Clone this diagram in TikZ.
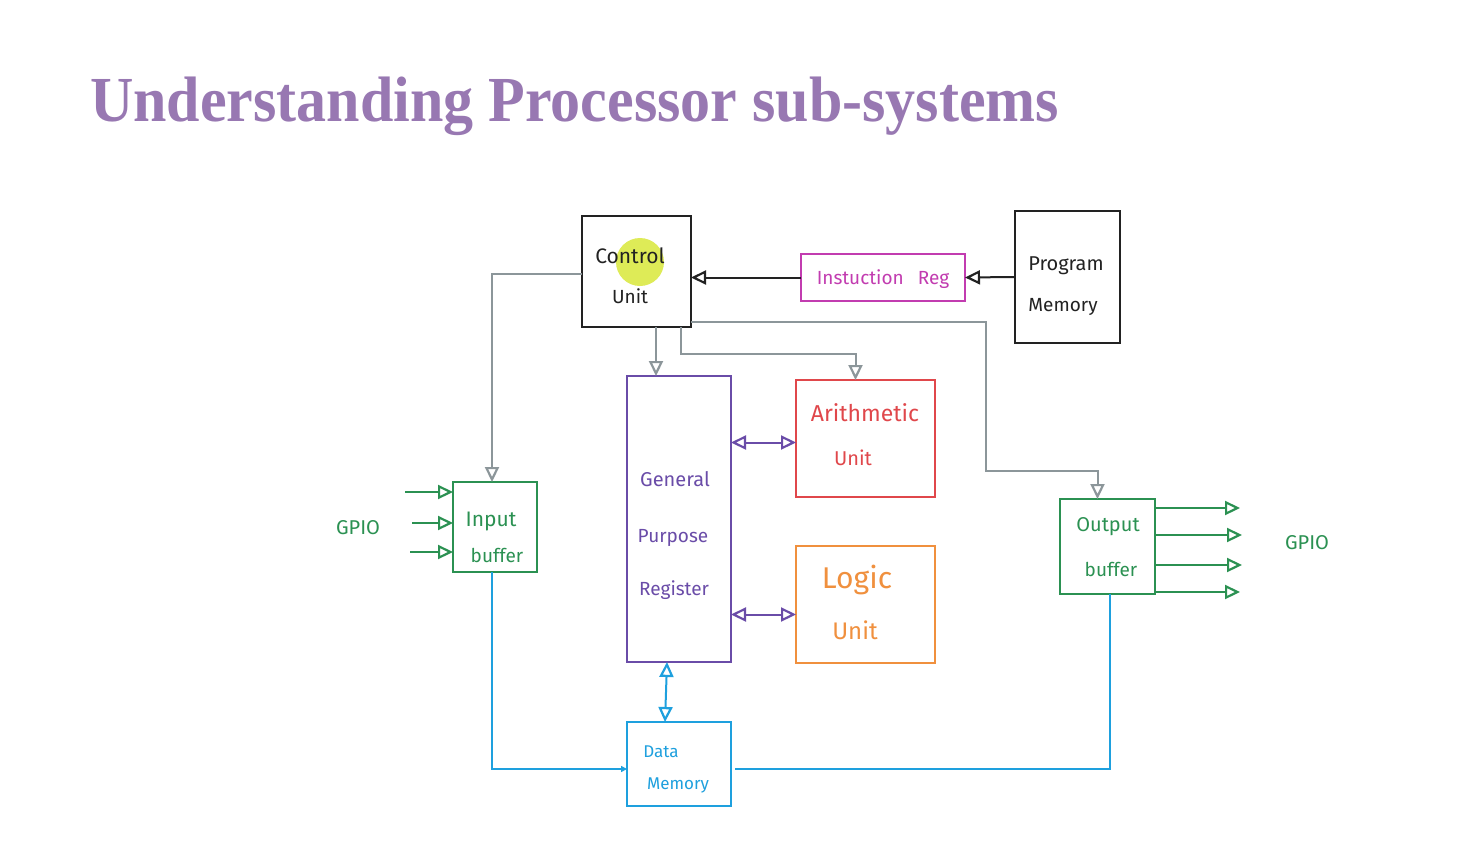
\documentclass[tikz,border=0pt]{standalone}
\usepackage{fontspec}
\setmainfont{Liberation Serif}
\newfontfamily\hand{Fira Sans}
\usetikzlibrary{arrows.meta,calc}

\definecolor{titlecol}{HTML}{9878B2}
\definecolor{ctrlgray}{HTML}{8C969A}
\definecolor{inkblack}{HTML}{222222}
\definecolor{irmag}{HTML}{C23CB0}
\definecolor{gprpur}{HTML}{6A4CA8}
\definecolor{alured}{HTML}{E0474B}
\definecolor{logor}{HTML}{F0903E}
\definecolor{iogreen}{HTML}{2B9152}
\definecolor{membl}{HTML}{1EA0DE}
\definecolor{hilite}{HTML}{D6E62E}

\tikzset{
  blk/.style={draw, line width=2pt, inner sep=0pt, outer sep=0pt},
  lbl/.style={font=\hand\fontsize{19}{19}\selectfont, inner sep=0pt},
  wire/.style={line width=2pt},
  tri/.style={-{Triangle[open,length=15pt,width=14pt,line width=2.2pt]}},
  dtri/.style={{Triangle[open,length=15pt,width=14pt,line width=2.2pt]}-{Triangle[open,length=15pt,width=14pt,line width=2.2pt]}},
  smalltip/.style={-{Triangle[length=6pt,width=6pt]}}
}

\begin{document}
\begin{tikzpicture}[x=1pt,y=-1pt]
\useasboundingbox (0,0) rectangle (1458,859);
\fill[white] (0,0) rectangle (1458,859);

% heading
\node[anchor=base west, inner sep=0pt, text=titlecol] (title) at (90,121)
  {\scalebox{1}[1.07]{\fontsize{60}{60}\selectfont\bfseries Understanding Processor sub-systems}};

% blocks
\node[blk, draw=inkblack, minimum width=109pt, minimum height=111pt] (cu) at (636.5,271.5) {};
\node[blk, draw=irmag, minimum width=164pt, minimum height=47pt] (ir) at (883,277.5) {};
\node[blk, draw=inkblack, minimum width=105pt, minimum height=132pt] (pm) at (1067.5,277) {};
\node[blk, draw=gprpur, minimum width=104pt, minimum height=286pt] (gpr) at (679,519) {};
\node[blk, draw=alured, minimum width=139pt, minimum height=117pt] (au) at (865.5,438.5) {};
\node[blk, draw=logor, minimum width=139pt, minimum height=117pt] (lu) at (865.5,604.5) {};
\node[blk, draw=iogreen, minimum width=84pt, minimum height=90pt] (ib) at (495,527) {};
\node[blk, draw=iogreen, minimum width=95pt, minimum height=95pt] (ob) at (1107.5,546.5) {};
\node[blk, draw=membl, minimum width=104pt, minimum height=84pt] (dm) at (679,764) {};

% pointer highlight
\fill[hilite, opacity=0.8] (640,262) circle (24);

% block texts
\node[lbl, text=inkblack, font=\hand\fontsize{21}{21}\selectfont] (cut1) at (630,256) {Control};
\node[lbl, text=inkblack] (cut2) at (630,296) {Unit};
\node[lbl, text=irmag] (irt) at (883,279) {Instuction\hspace{14pt}Reg};
\node[lbl, text=inkblack, font=\hand\fontsize{20}{20}\selectfont] (pmt1) at (1066,266) {Program};
\node[lbl, text=inkblack] (pmt2) at (1063,307) {Memory};
\node[lbl, text=gprpur, font=\hand\fontsize{20}{20}\selectfont] (gt1) at (675,479) {General};
\node[lbl, text=gprpur] (gt2) at (673,538) {Purpose};
\node[lbl, text=gprpur] (gt3) at (674,590) {Register};
\node[lbl, text=alured, font=\hand\fontsize{23}{23}\selectfont] (aut1) at (865,413) {Arithmetic};
\node[lbl, text=alured, font=\hand\fontsize{20}{20}\selectfont] (aut2) at (853,458) {Unit};
\node[lbl, text=logor, font=\hand\fontsize{30}{30}\selectfont] (lut1) at (857,580) {Logic};
\node[lbl, text=logor, font=\hand\fontsize{24}{24}\selectfont] (lut2) at (855,630) {Unit};
\node[lbl, text=iogreen, font=\hand\fontsize{21}{21}\selectfont] (ibt1) at (491,521) {Input};
\node[lbl, text=iogreen] (ibt2) at (497,555) {buffer};
\node[lbl, text=iogreen, font=\hand\fontsize{20}{20}\selectfont] (obt1) at (1108,527) {Output};
\node[lbl, text=iogreen] (obt2) at (1111,569) {buffer};
\node[lbl, text=membl, font=\hand\fontsize{17}{17}\selectfont] (dmt1) at (661,752) {Data};
\node[lbl, text=membl, font=\hand\fontsize{17}{17}\selectfont] (dmt2) at (678,785) {Memory};
\node[lbl, text=iogreen, font=\hand\fontsize{20}{20}\selectfont] (gpioL) at (358,528) {GPIO};
\node[lbl, text=iogreen, font=\hand\fontsize{20}{20}\selectfont] (gpioR) at (1307,543) {GPIO};

% instruction path
\draw[wire, tri, draw=inkblack] (pm.west) -- (ir.east);
\draw[wire, tri, draw=inkblack] (ir.west) -- (cu.east |- ir.west);

% control lines
\coordinate (c1) at ($(cu.south west)+(74,0)$);
\coordinate (c2) at ($(cu.south west)+(99,0)$);
\coordinate (c3) at ($(cu.south east)+(0,-5)$);
\coordinate (aun) at ($(au.north)+(-10,0)$);
\coordinate (obn) at ($(ob.north)+(-10,0)$);
\coordinate (ibn) at ($(ib.north)+(-3,0)$);
\draw[wire, tri, draw=ctrlgray] ($(cu.west)+(0,2.5)$) -| (ibn);
\draw[wire, tri, draw=ctrlgray] (c1) -- (c1 |- gpr.north);
\draw[wire, tri, draw=ctrlgray] (c2) -- ++(0,27) -| (aun);
\draw[wire, tri, draw=ctrlgray] (c3) -- (986,322) -- (986,471) -| (obn);

% register / unit links
\coordinate (aul) at ($(au.west)+(0,4)$);
\coordinate (lul) at ($(lu.west)+(0,10)$);
\draw[wire, dtri, draw=gprpur] (gpr.east |- aul) -- (aul);
\draw[wire, dtri, draw=gprpur] (gpr.east |- lul) -- (lul);

% data memory links
\coordinate (gs) at ($(gpr.south)+(-12,0)$);
\coordinate (dn) at ($(dm.north)+(-14,0)$);
\draw[wire, dtri, draw=membl] (gs) -- (dn);
\coordinate (dml) at ($(dm.west)+(0,5)$);
\coordinate (dmr) at ($(dm.east)+(4,5)$);
\coordinate (ibs) at ($(ib.south)+(-3,0)$);
\coordinate (obs) at ($(ob.south)+(2.5,0)$);
\draw[wire, smalltip, draw=membl] (ibs) |- (dml);
\draw[wire, draw=membl] (dmr) -| (obs);

% GPIO pins
\coordinate (in1) at (405,492);
\coordinate (in2) at (412,523);
\coordinate (in3) at (410,552);
\foreach \p in {in1,in2,in3}
  \draw[wire, tri, draw=iogreen] (\p) -- (\p -| ib.west);
\coordinate (out1) at (1240,508);
\coordinate (out2) at (1242,535);
\coordinate (out3) at (1242,565);
\coordinate (out4) at (1240,592);
\foreach \p in {out1,out2,out3,out4}
  \draw[wire, tri, draw=iogreen] (\p -| ob.east) -- (\p);
\end{tikzpicture}
\end{document}
